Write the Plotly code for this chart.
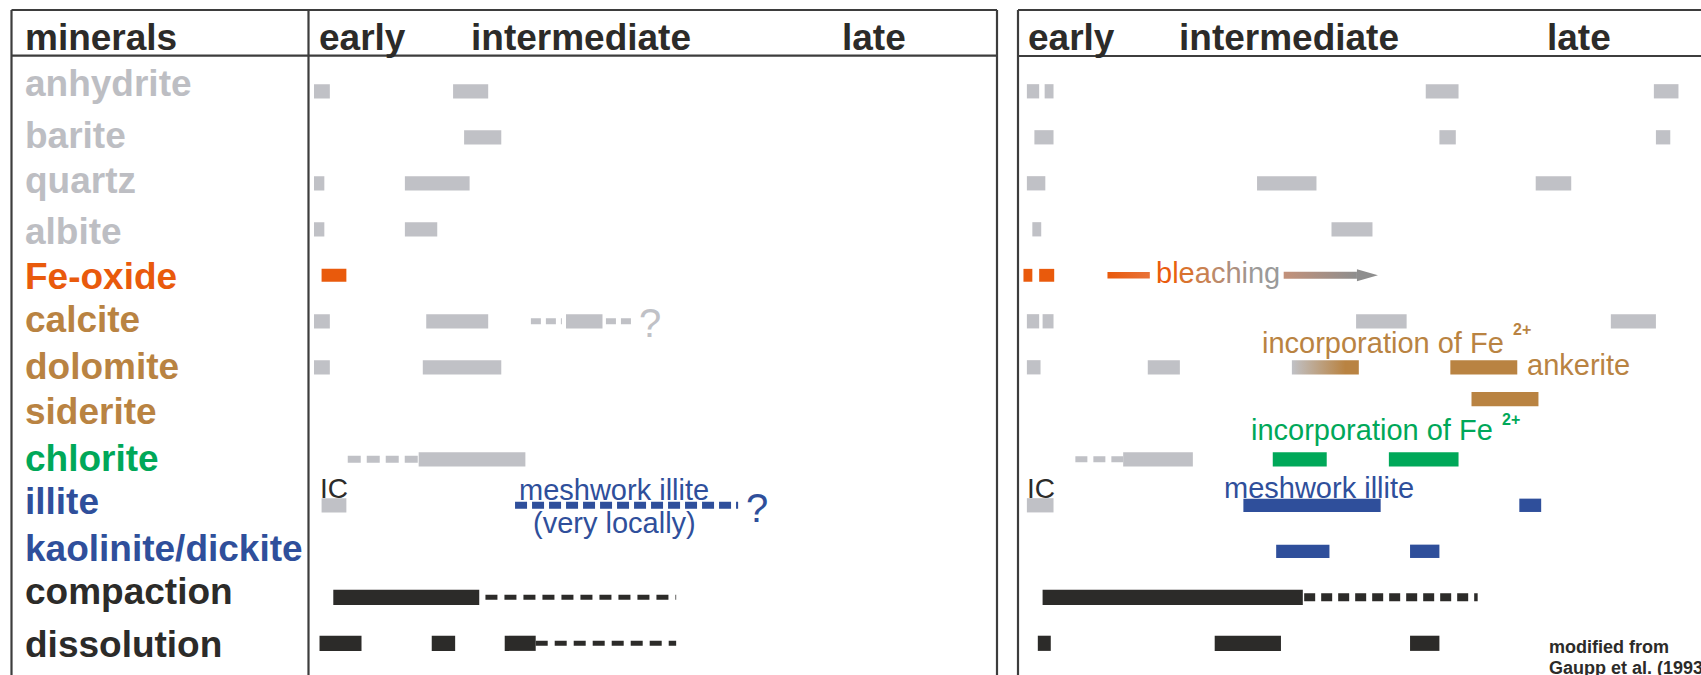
import plotly.graph_objects as go

W, H = 1701, 675

# ---------------- data ----------------
minerals = ["anhydrite", "barite", "quartz", "albite", "Fe-oxide", "calcite", "dolomite",
            "siderite", "chlorite", "illite", "kaolinite/dickite", "compaction", "dissolution"]
mineral_color_keys = ["gray", "gray", "gray", "gray", "orange", "brown", "brown",
                      "brown", "green", "blue", "blue", "black", "black"]

phase_names = ["early", "intermediate", "late"]
phase_starts = [1.2, 23.3, 77.2]          # relative diagenetic time (0-100) where each phase label starts

# left panel (relative time 0-100)
left_gray = [("anhydrite", 0.8, 3.1), ("anhydrite", 21.0, 26.1), ("barite", 22.6, 28.0),
             ("quartz", 0.8, 2.3), ("quartz", 14.0, 23.4), ("albite", 0.8, 2.3), ("albite", 14.0, 18.7),
             ("calcite", 0.8, 3.1), ("calcite", 17.1, 26.1), ("calcite", 37.4, 42.7),
             ("dolomite", 0.8, 3.1), ("dolomite", 16.6, 28.0), ("chlorite", 16.0, 31.5),
             ("illite", 1.9, 5.5)]
left_gray_dashed = [("calcite", 32.3, 36.8), ("calcite", 43.2, 46.9)]
left_gray_dashed_thin = [("chlorite", 5.7, 16.0)]
left_orange = [("Fe-oxide", 1.9, 5.5)]
left_blue_dashed = [("illite", 30.0, 62.4)]
left_black = [("compaction", 3.6, 24.8), ("dissolution", 1.6, 7.7), ("dissolution", 17.9, 21.3),
              ("dissolution", 28.5, 33.0)]
left_black_dashed = [("compaction", 25.7, 53.4), ("dissolution", 33.0, 53.4)]

# right panel (relative time 0-100)
right_gray = [("anhydrite", 1.3, 3.1), ("anhydrite", 3.9, 5.2), ("anhydrite", 59.7, 64.5), ("anhydrite", 93.1, 96.7),
              ("barite", 2.4, 5.2), ("barite", 61.7, 64.1), ("barite", 93.4, 95.5),
              ("quartz", 1.3, 4.0), ("quartz", 35.0, 43.7), ("quartz", 75.8, 81.0),
              ("albite", 2.1, 3.4), ("albite", 45.9, 51.9),
              ("calcite", 1.3, 3.1), ("calcite", 3.6, 5.2), ("calcite", 49.5, 56.9), ("calcite", 86.8, 93.4),
              ("dolomite", 1.3, 3.3), ("dolomite", 19.0, 23.7), ("chlorite", 15.4, 25.6),
              ("illite", 1.3, 5.2)]
right_gray_dashed_thin = [("chlorite", 8.4, 15.4)]
right_orange = [("Fe-oxide", 0.8, 2.1), ("Fe-oxide", 3.1, 5.3)]
right_bleach_lead = [("Fe-oxide", 13.1, 19.3)]
right_bleach_arrow = [("Fe-oxide", 38.9, 52.7)]
right_gradient = [("dolomite", 40.1, 49.9)]
right_brown = [("dolomite", 63.3, 73.1)]
right_brown_siderite = [("siderite", 66.4, 76.2)]
right_green = [("chlorite", 37.3, 45.2), ("chlorite", 54.3, 64.5)]
right_blue = [("illite", 33.0, 53.1), ("illite", 73.4, 76.6), ("kaolinite/dickite", 37.8, 45.6),
              ("kaolinite/dickite", 57.4, 61.7)]
right_black = [("compaction", 3.6, 41.7), ("dissolution", 2.9, 4.8), ("dissolution", 28.8, 38.5),
               ("dissolution", 57.4, 61.7)]
right_black_dashed = [("compaction", 41.9, 67.3)]

# ---------------- style ----------------
COL = {"gray": "#c0c1c6", "orange": "#e95a0c", "brown": "#b98342", "green": "#00a859",
       "blue": "#2f4f9b", "black": "#2c2b29"}
LABEL_COL = dict(COL, gray="#bdbec3")
LABEL_SHIFT = [7, 1, 2, -3, -2, 1, 0, 1, 0, 3, 2, 5, -2]   # px fine-tuning of row labels
FRAME = "#3d3d3d"
FONT = "Liberation Sans, Arial, sans-serif"
ROW_PX = 46.0
ROW0_PX = 91.3
BAR_W = 0.31
LEFT_X0, LEFT_X1, RIGHT_X0 = 308.5, 997.0, 1018.0
RIGHT_PX_PER_UNIT = (W - RIGHT_X0) / 100.0


def row(m):
    return minerals.index(m)


fig = go.Figure()


def add_bars(items, color, axis, width=BAR_W, offset=0.0):
    fig.add_trace(go.Bar(
        orientation="h", y=[row(m) + offset for m, _, _ in items], x=[e - s for _, s, e in items],
        base=[s for _, s, _ in items], width=width, xaxis=axis, yaxis="y",
        marker=dict(color=color, line=dict(width=0)), showlegend=False, hoverinfo="skip"))


def add_dashes(items, color, axis, lw, dash):
    xs, ys = [], []
    for m, s, e in items:
        xs += [s, e, None]
        ys += [row(m), row(m), None]
    fig.add_trace(go.Scatter(x=xs, y=ys, mode="lines", xaxis=axis, yaxis="y",
                             line=dict(color=color, width=lw, dash=dash),
                             showlegend=False, hoverinfo="skip"))


def add_gradient(m, s, e, axis, half, stops):
    r = row(m)
    fig.add_trace(go.Scatter(
        x=[s, e, e, s, s], y=[r - half, r - half, r + half, r + half, r - half],
        mode="lines", fill="toself", xaxis=axis, yaxis="y",
        line=dict(width=0, color="rgba(0,0,0,0)"),
        fillgradient=dict(type="horizontal", colorscale=stops),
        showlegend=False, hoverinfo="skip"))


# left panel
add_bars(left_gray, COL["gray"], "x")
add_dashes(left_gray_dashed, COL["gray"], "x", 6, "10px,5px")
add_dashes(left_gray_dashed_thin, COL["gray"], "x", 7, "13px,6px")
add_bars(left_orange, COL["orange"], "x", 0.28)
add_dashes(left_blue_dashed, COL["blue"], "x", 7, "12px,5px")
add_bars(left_black, COL["black"], "x", 0.33)
add_dashes(left_black_dashed, COL["black"], "x", 5, "12px,7px")

# right panel
add_bars(right_gray, COL["gray"], "x2")
add_dashes(right_gray_dashed_thin, COL["gray"], "x2", 6, "12px,6px")
add_bars(right_orange, COL["orange"], "x2", 0.28)
for m, s, e in right_bleach_lead:
    add_gradient(m, s, e, "x2", 0.07, [[0, "#e95a0c"], [1, "#e8733a"]])
ARROW_LEN = 21 / RIGHT_PX_PER_UNIT
for m, s, e in right_bleach_arrow:
    add_gradient(m, s, e - ARROW_LEN, "x2", 0.075, [[0, "#c3917a"], [1, "#8e8e8e"]])
    r = row(m)
    fig.add_trace(go.Scatter(x=[e - ARROW_LEN, e, e - ARROW_LEN, e - ARROW_LEN],
                             y=[r - 0.13, r, r + 0.13, r - 0.13], mode="lines", fill="toself",
                             fillcolor="#8e8e8e", line=dict(width=0, color="rgba(0,0,0,0)"),
                             xaxis="x2", yaxis="y", showlegend=False, hoverinfo="skip"))
for m, s, e in right_gradient:
    add_gradient(m, s, e, "x2", BAR_W / 2,
                 [[0, COL["gray"]], [0.8, COL["brown"]], [1, COL["brown"]]])
add_bars(right_brown, COL["brown"], "x2")
add_bars(right_brown_siderite, COL["brown"], "x2", offset=-0.31)
add_bars(right_green, COL["green"], "x2")
add_bars(right_blue, COL["blue"], "x2", 0.29)
add_bars(right_black, COL["black"], "x2", 0.33)
add_dashes(right_black_dashed, COL["black"], "x2", 8, "11px,6px")

# ---------------- frame ----------------
def px(x):
    return x / W


def py(y):
    return 1 - y / H


shapes = []
def seg(x0, y0, x1, y1):
    shapes.append(dict(type="line", xref="paper", yref="paper", x0=px(x0), y0=py(y0), x1=px(x1), y1=py(y1),
                       line=dict(color=FRAME, width=2.2)))

seg(11.5, 10, LEFT_X1, 10)
seg(11.5, 10, 11.5, H + 5)
seg(LEFT_X1, 10, LEFT_X1, H + 5)
seg(LEFT_X0, 10, LEFT_X0, H + 5)
seg(11.5, 55.7, LEFT_X1, 55.7)
seg(RIGHT_X0, 10, W + 5, 10)
seg(RIGHT_X0, 10, RIGHT_X0, H + 5)
seg(RIGHT_X0, 56, W + 5, 56)

# ---------------- text ----------------
ann = []
HEAD_Y = py(50 - 12.8)
ann.append(dict(text="<b>minerals</b>", xref="paper", yref="paper", x=px(23), y=HEAD_Y,
                xanchor="left", yanchor="middle", showarrow=False,
                font=dict(family=FONT, size=37, color=COL["black"])))
for axis in ("x", "x2"):
    for name, t in zip(phase_names, phase_starts):
        ann.append(dict(text=f"<b>{name}</b>", xref=axis, yref="paper", x=t, y=HEAD_Y,
                        xanchor="left", yanchor="middle", showarrow=False,
                        font=dict(family=FONT, size=37, color=COL["black"])))

for m, ck, sh in zip(minerals, mineral_color_keys, LABEL_SHIFT):
    ann.append(dict(text=f"<b>{m}</b>", xref="paper", yref="y", x=px(23), y=row(m), yshift=1 + sh,
                    xanchor="left", yanchor="middle", showarrow=False,
                    font=dict(family=FONT, size=37, color=LABEL_COL[ck])))


def note(text, axis, m, x, yshift, size, color, anchor="center", bold=False):
    ann.append(dict(text=f"<b>{text}</b>" if bold else text, xref=axis, yref="y", x=x, y=row(m),
                    yshift=yshift, xanchor=anchor, yanchor="middle", showarrow=False,
                    font=dict(family=FONT, size=size, color=color)))


# left panel notes
note("IC", "x", "illite", 3.7, 17, 28, COL["black"])
note("meshwork illite", "x", "illite", 44.4, 15.3, 29, COL["blue"])
note("(very locally)", "x", "illite", 44.4, -17.7, 29, COL["blue"])
note("?", "x", "illite", 65.1, -2.7, 40, COL["blue"])
note("?", "x", "calcite", 49.6, -2, 40, COL["gray"])

# right panel notes
note("IC", "x2", "illite", 3.4, 17, 28, COL["black"])
note("meshwork illite", "x2", "illite", 44.0, 17, 29, COL["blue"])
bleach_cols = ["#ea5b0c", "#e8610f", "#d9722e", "#c98150", "#bc8a6a", "#ad8f7f", "#a3948c", "#9c9a98", "#9a9a9a"]
bleach_txt = "".join(f'<span style="color:{c}">{ch}</span>' for ch, c in zip("bleaching", bleach_cols))
note(bleach_txt, "x2", "Fe-oxide", 19.9, 2.6, 29, COL["orange"], anchor="left")
note("incorporation of Fe", "x2", "dolomite", 35.5, 24, 29, COL["brown"], anchor="left")
note("2+", "x2", "dolomite", 72.2, 37.8, 16, COL["brown"], anchor="left", bold=True)
note("ankerite", "x2", "dolomite", 74.3, 2.3, 29, COL["brown"], anchor="left")
note("incorporation of Fe", "x2", "chlorite", 33.8, 29.3, 29, COL["green"], anchor="left")
note("2+", "x2", "chlorite", 70.6, 39.8, 16, COL["green"], anchor="left", bold=True)
note("modified from", "x2", "dissolution", 77.4, -3.5, 18, COL["black"], anchor="left", bold=True)
note("Gaupp et al. (1993)", "x2", "dissolution", 77.4, -24.5, 18, COL["black"], anchor="left", bold=True)

fig.update_layout(
    width=W, height=H, margin=dict(l=0, r=0, t=0, b=0),
    paper_bgcolor="white", plot_bgcolor="rgba(0,0,0,0)",
    barmode="overlay", showlegend=False,
    xaxis=dict(domain=[px(LEFT_X0), px(LEFT_X1)], range=[0, 100], visible=False, anchor="y"),
    xaxis2=dict(domain=[px(RIGHT_X0), 1], range=[0, 100], visible=False, anchor="y"),
    yaxis=dict(domain=[0, 1], range=[(H - ROW0_PX) / ROW_PX, -ROW0_PX / ROW_PX], visible=False),
    shapes=shapes, annotations=ann,
)

fig.write_html("out.html")
